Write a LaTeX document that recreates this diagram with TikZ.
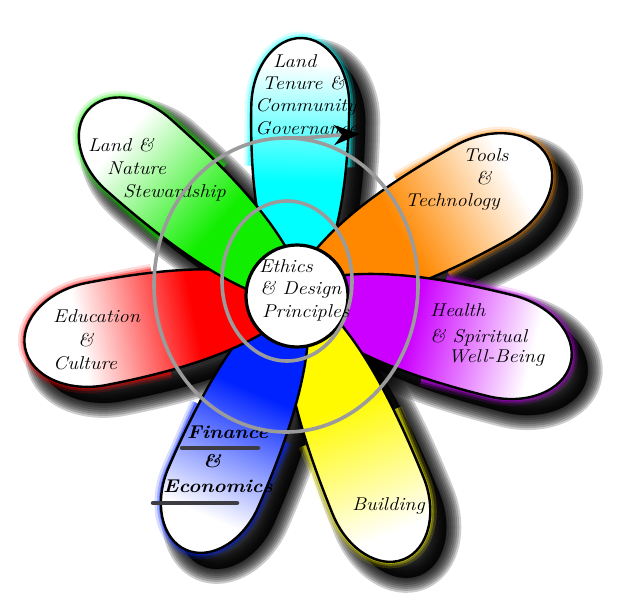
\documentclass[tikz,border=0pt]{standalone}
\usepackage{graphicx}
\usetikzlibrary{arrows.meta}
\definecolor{pcyan}{RGB}{0,255,255}
\definecolor{porange}{RGB}{255,136,0}
\definecolor{ppurple}{RGB}{204,0,255}
\definecolor{pyellow}{RGB}{255,250,0}
\definecolor{pblue}{RGB}{0,34,255}
\definecolor{pred}{RGB}{255,0,0}
\definecolor{pgreen}{RGB}{17,238,0}
\definecolor{ringgray}{RGB}{155,155,155}
\definecolor{bargray}{RGB}{60,60,66}
\pgfdeclarehorizontalshading{sh-pcyan}{100bp}{color(0bp)=(pcyan); color(47bp)=(pcyan); color(70bp)=(white); color(100bp)=(white)}
\pgfdeclarehorizontalshading{sh-porange}{100bp}{color(0bp)=(porange); color(46bp)=(porange); color(68bp)=(white); color(100bp)=(white)}
\pgfdeclarehorizontalshading{sh-ppurple}{100bp}{color(0bp)=(ppurple); color(46bp)=(ppurple); color(68bp)=(white); color(100bp)=(white)}
\pgfdeclarehorizontalshading{sh-pyellow}{100bp}{color(0bp)=(pyellow); color(46bp)=(pyellow); color(70bp)=(white); color(100bp)=(white)}
\pgfdeclarehorizontalshading{sh-pblue}{100bp}{color(0bp)=(pblue); color(44bp)=(pblue); color(68bp)=(white); color(100bp)=(white)}
\pgfdeclarehorizontalshading{sh-pred}{100bp}{color(0bp)=(pred); color(44bp)=(pred); color(65bp)=(white); color(100bp)=(white)}
\pgfdeclarehorizontalshading{sh-pgreen}{100bp}{color(0bp)=(pgreen); color(44bp)=(pgreen); color(67bp)=(white); color(100bp)=(white)}
\newcommand\petalpath{(0,-12) .. controls (0.15*\pL,-0.7*\pW) and (0.35*\pL,-\pW) .. (\pL-1.4*\pW,-\pW) arc[start angle=-90,end angle=90,x radius=1.4*\pW,y radius=\pW] .. controls (0.35*\pL,\pW) and (0.15*\pL,0.7*\pW) .. (0,12) -- cycle}
\newcommand\petallist{89/257/49/pcyan, 29/286/54/porange, -14/282/52/ppurple, -68/285/49/pyellow, -113.5/278/49/pblue, 191/277/52/pred, 138.5/279/48/pgreen}
\newcommand\hw[1]{\scalebox{1.1}[1]{#1}}
\tikzset{
  txt/.style={anchor=base west, inner sep=0pt, font=\fontsize{18.5}{21}\selectfont\itshape},
  btxt/.style={txt, font=\fontsize{18.5}{21}\selectfont\bfseries\itshape},
  ring/.style={draw=ringgray, line width=3.6pt},
  bar/.style={draw=bargray, line width=4.5pt, line cap=round},
}
\begin{document}
\begin{tikzpicture}[x=1pt,y=1pt]
\useasboundingbox (0,0) rectangle (631,600);
\fill[white] (0,0) rectangle (631,600);
% shadows
\foreach \pA/\pL/\pW/\pC in \petallist {
  \begin{scope}[transform canvas={shift={(313,289)},rotate=\pA}]
    \foreach \w in {30,26,22,18,14,10,6,2}
      \filldraw[black,opacity=0.2,line width=\w pt,line join=round] \petalpath;
  \end{scope}
}
% glows
\foreach \pA/\pL/\pW/\pC in \petallist {
  \begin{scope}[transform canvas={shift={(297,305)},rotate=\pA}]
    \foreach \w/\o in {13/0.15,8/0.25,4/0.45}
      \draw[\pC,opacity=\o,line width=\w pt] (0.5*\pL,-\pW) -- (\pL-1.4*\pW,-\pW) arc[start angle=-90,end angle=90,x radius=1.4*\pW,y radius=\pW] -- (0.5*\pL,\pW);
  \end{scope}
}
% petals
\foreach \pA/\pL/\pW/\pC in \petallist {
  \begin{scope}[transform canvas={shift={(297,305)},rotate=\pA}]
    \shade[shading=sh-\pC] \petalpath;
    \draw[black,line width=2.4pt] \petalpath;
  \end{scope}
}
% centre
\node[circle, draw=black, line width=3.2pt, fill=white, minimum size=102pt, inner sep=0pt] (core) at (297,304) {};
% rings
\coordinate (ic) at (287,319);
\draw[ring] (ic) ellipse [x radius=65, y radius=80];
% texts
\node[txt] (t1) at (273,532) {\hw{Land}};
\node[txt] (t2) at (262,510) {\hw{Tenure \&}};
\node[txt] (t3) at (255,488) {\hw{Community}};
\node[txt] (t4) at (255,465) {\hw{Governance}};
\node[txt] (g1) at (88,448) {\hw{Land \&}};
\node[txt] (g2) at (107,425) {\hw{Nature}};
\node[txt] (g3) at (123,402) {\hw{Stewardship}};
\node[txt] (o1) at (463,438) {\hw{Tools}};
\node[txt] (o2) at (476,415) {\hw{\&}};
\node[txt] (o3) at (405,393) {\hw{Technology}};
\node[txt] (r1) at (53,277) {\hw{Education}};
\node[txt] (r2) at (78,253) {\hw{\&}};
\node[txt] (r3) at (53,230) {\hw{Culture}};
\node[txt] (p1) at (430,283) {\hw{Health}};
\node[txt] (p2) at (430,258) {\hw{\& Spiritual}};
\node[txt] (p3) at (448,237) {\hw{Well-Being}};
\node[btxt] (b1) at (187,162) {\hw{Finance}};
\node[btxt] (b2) at (203,133) {\hw{\&}};
\node[btxt] (b3) at (163,108) {\hw{Economics}};
\node[txt] (y1) at (352,90) {\hw{Building}};
\node[txt] (e1) at (259,327) {\hw{Ethics}};
\node[txt] (e2) at (260,305) {\hw{\& Design}};
\node[txt] (e3) at (262,282) {\hw{Principles}};
% underline bars
\coordinate (u1s) at (182,152); \coordinate (u1e) at (258,152);
\coordinate (u2s) at (153,97);  \coordinate (u2e) at (237,97);
\draw[bar] (u1s) -- (u1e);
\draw[bar] (u2s) -- (u2e);
% outer ring with arrow
\coordinate (oc) at (286,315);
\coordinate (tipend) at (360,466);
\draw[ring, -{Stealth[black,length=26pt,width=20pt,inset=8pt]}] (oc) ++(0,147) arc[start angle=90,end angle=-270,x radius=132,y radius=147] .. controls +(30,0) and +(-25,-1) .. (tipend);
\end{tikzpicture}
\end{document}
